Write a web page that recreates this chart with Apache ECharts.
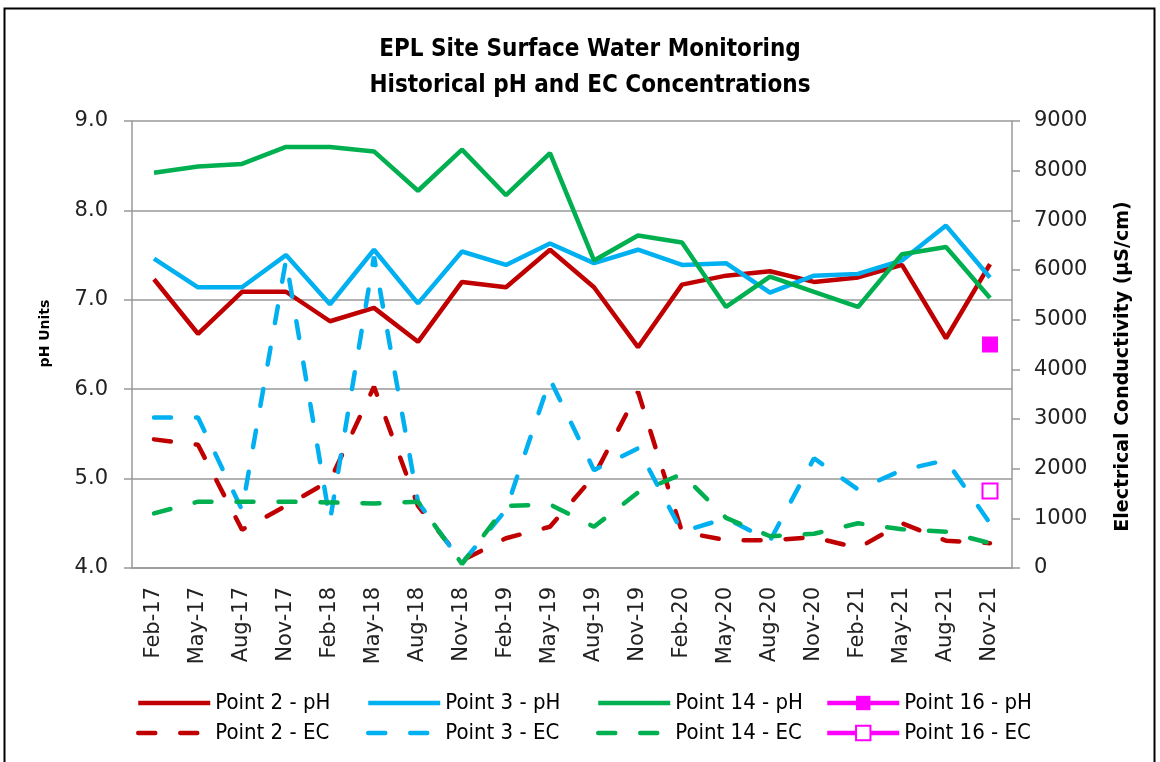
<!DOCTYPE html>
<html lang="en">
<head>
    <meta charset="utf-8" />
    <title>EPL Site Surface Water Monitoring</title>
    <script src="https://cdn.jsdelivr.net/npm/echarts@6/dist/echarts.min.js"></script>
    <style>
        body { margin: 0; background: #fff; }
        #main { width: 1160px; height: 762px; }
    </style>
</head>
<body>
    <div id="main"></div>
    <script type="text/javascript">

        // sampling dates (quarterly)
        var categories = ['Feb-17', 'May-17', 'Aug-17', 'Nov-17', 'Feb-18', 'May-18', 'Aug-18', 'Nov-18',
            'Feb-19', 'May-19', 'Aug-19', 'Nov-19', 'Feb-20', 'May-20', 'Aug-20', 'Nov-20',
            'Feb-21', 'May-21', 'Aug-21', 'Nov-21'];

        // pH (left axis)
        var point2pH = [7.23, 6.62, 7.09, 7.09, 6.76, 6.91, 6.53, 7.20, 7.14, 7.56, 7.14, 6.47, 7.17, 7.27, 7.32, 7.20, 7.25, 7.39, 6.57, 7.40];
        var point3pH = [7.46, 7.14, 7.14, 7.50, 6.95, 7.56, 6.96, 7.54, 7.39, 7.63, 7.41, 7.56, 7.39, 7.41, 7.08, 7.27, 7.29, 7.44, 7.83, 7.25];
        var point14pH = [8.42, 8.49, 8.52, 8.71, 8.71, 8.66, 8.22, 8.68, 8.17, 8.64, 7.44, 7.72, 7.64, 6.92, 7.26, 7.09, 6.92, 7.51, 7.59, 7.02];
        var point16pH = [null, null, null, null, null, null, null, null, null, null, null, null, null, null, null, null, null, null, null, 6.50];

        // EC in uS/cm (right axis)
        var point2EC = [2590, 2480, 770, 1250, 1760, 3650, 1250, 150, 600, 830, 1850, 3550, 730, 560, 560, 620, 400, 900, 550, 500];
        var point3EC = [3030, 3030, 1170, 6200, 950, 6270, 1330, 100, 1170, 3800, 1970, 2410, 730, 1000, 550, 2210, 1580, 1970, 2170, 900];
        var point14EC = [1100, 1335, 1335, 1335, 1320, 1300, 1335, 80, 1250, 1280, 830, 1520, 1890, 1010, 640, 690, 900, 780, 730, 500];
        var point16EC = [null, null, null, null, null, null, null, null, null, null, null, null, null, null, null, null, null, null, null, 1550];

        var phTicks = [4, 9, 1];      // min, max, interval
        var ecTicks = [0, 9000, 1000];

        var RED = '#C00000', BLUE = '#00B0F0', GREEN = '#00B050', PINK = '#FF00FF';
        var labelFont = 'DejaVu Sans, Verdana, sans-serif';
        var narrowFont = '"Liberation Sans Narrow", "DejaVu Sans Condensed", sans-serif';
        var dash = [17, 25];

        function solid(name, data, color) {
            return {
                name: name, type: 'line', data: data, yAxisIndex: 0,
                symbol: 'none', lineStyle: { color: color, width: 4.5 }, itemStyle: { color: color }
            };
        }
        function dashed(name, data, color) {
            return {
                name: name, type: 'line', data: data, yAxisIndex: 1,
                symbol: 'none', lineStyle: { color: color, width: 4.5, type: dash, cap: 'round' }, itemStyle: { color: color }
            };
        }

        // one legend column = pH entry on top, EC entry below
        function legendColumn(left, names, showSymbol) {
            return {
                orient: 'vertical', left: left, top: 691, padding: 0,
                itemWidth: 72, itemHeight: 18, itemGap: 6,
                lineStyle: { width: 4.5 },
                textStyle: { fontFamily: narrowFont, fontSize: 22, lineHeight: 24, color: '#000' },
                data: names.map(function (n) {
                    return showSymbol ? n : { name: n, itemStyle: { opacity: 0 } };
                })
            };
        }

        var myChart = echarts.init(document.getElementById('main'));

        option = {
            animation: false,
            title: {
                text: 'EPL Site Surface Water Monitoring\nHistorical pH and EC Concentrations',
                left: 585, top: 27, textAlign: 'center',
                textStyle: { fontFamily: narrowFont, fontSize: 24, fontWeight: 'bold', lineHeight: 36, color: '#000' }
            },
            graphic: [{
                type: 'rect', silent: true,
                shape: { x: 4.5, y: 8.5, width: 1150, height: 770 },
                style: { fill: null, stroke: '#000', lineWidth: 2 }
            }],
            legend: [
                legendColumn(136, ['Point 2 - pH', 'Point 2 - EC'], false),
                legendColumn(366, ['Point 3 - pH', 'Point 3 - EC'], false),
                legendColumn(596, ['Point 14 - pH', 'Point 14 - EC'], false),
                legendColumn(825, ['Point 16 - pH', 'Point 16 - EC'], true)
            ],
            grid: { left: 132, right: 148, top: 121, bottom: 194 },
            xAxis: {
                type: 'category',
                data: categories,
                boundaryGap: true,
                axisLine: { lineStyle: { color: '#999', width: 1.5 } },
                axisTick: { length: 8, lineStyle: { color: '#999', width: 1.5 } },
                axisLabel: { rotate: 90, fontFamily: labelFont, fontSize: 21, color: '#222', margin: 19 }
            },
            yAxis: [{
                type: 'value',
                min: phTicks[0], max: phTicks[1], interval: phTicks[2],
                name: 'pH Units', nameLocation: 'middle', nameRotate: 90, nameGap: 80,
                nameTextStyle: { fontFamily: labelFont, fontSize: 14, fontWeight: 'bold', color: '#000', padding: [0, 0, 0, 22] },
                axisLine: { show: true, lineStyle: { color: '#999', width: 1.5 } },
                axisTick: { show: true, length: 8, lineStyle: { color: '#999', width: 1.5 } },
                splitLine: { lineStyle: { color: '#999', width: 1.5 } },
                axisLabel: { formatter: function (v) { return v.toFixed(1); }, fontFamily: labelFont, fontSize: 21, color: '#222', margin: 24 }
            }, {
                type: 'value',
                min: ecTicks[0], max: ecTicks[1], interval: ecTicks[2],
                name: 'Electrical Conductivity (\u00b5S/cm)', nameLocation: 'middle', nameRotate: 90, nameGap: 102,
                nameTextStyle: { fontFamily: labelFont, fontSize: 19, fontWeight: 'bold', color: '#000', padding: [0, 44, 0, 0] },
                axisLine: { show: true, lineStyle: { color: '#999', width: 1.5 } },
                axisTick: { show: true, length: 8, lineStyle: { color: '#999', width: 1.5 } },
                splitLine: { show: false },
                axisLabel: { formatter: function (v) { return String(v); }, fontFamily: labelFont, fontSize: 21, color: '#222', margin: 22 }
            }],
            series: [
                solid('Point 2 - pH', point2pH, RED),
                solid('Point 3 - pH', point3pH, BLUE),
                solid('Point 14 - pH', point14pH, GREEN),
                {
                    name: 'Point 16 - pH', type: 'line', data: point16pH, yAxisIndex: 0,
                    symbol: 'rect', symbolSize: 16, showAllSymbol: true,
                    lineStyle: { color: PINK, width: 4.5 }, itemStyle: { color: PINK }
                },
                dashed('Point 2 - EC', point2EC, RED),
                dashed('Point 3 - EC', point3EC, BLUE),
                dashed('Point 14 - EC', point14EC, GREEN),
                {
                    name: 'Point 16 - EC', type: 'line', data: point16EC, yAxisIndex: 1,
                    symbol: 'rect', symbolSize: 15, showAllSymbol: true,
                    lineStyle: { color: PINK, width: 4.5 },
                    itemStyle: { color: '#fff', borderColor: PINK, borderWidth: 2 }
                }
            ]
        };

        myChart.setOption(option);

    </script>
</body>
</html>
